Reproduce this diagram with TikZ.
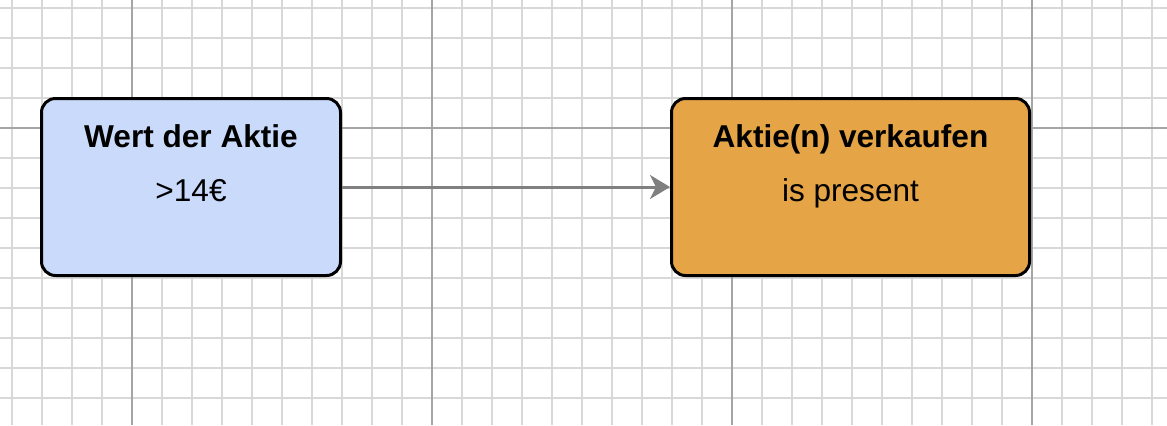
\documentclass[tikz,border=0pt]{standalone}
\usepackage{fontspec}
\setmainfont{Liberation Sans}
\usetikzlibrary{positioning,calc,arrows.meta}
\definecolor{gridminor}{RGB}{216,216,216}
\definecolor{gridmajor}{RGB}{165,165,165}
\definecolor{wertblue}{RGB}{201,218,250}
\definecolor{verkaufenorange}{RGB}{229,165,71}
\definecolor{flowgray}{RGB}{128,128,128}

\begin{document}
\begin{tikzpicture}[
    x=0.5pt, y=-0.5pt,
    box/.style={rectangle, rounded corners=7pt, draw=black, line width=1.5pt, minimum height=88.5pt},
    title/.style={anchor=base, font=\fontsize{15.8}{19}\selectfont\bfseries},
    value/.style={anchor=base, font=\fontsize{15.8}{19}\selectfont},
    flow/.style={-{Stealth[length=10pt, width=12pt, inset=3pt]}, line width=1.5pt, flowgray}
]

% canvas: 1167 x 425 px, y axis pointing down
\useasboundingbox (0,0) rectangle (1167,425);
\fill[white] (0,0) rectangle (1167,425);

% background grid: minor every 30px, major every 300px
\foreach \i in {0,...,38} {
    \draw[gridminor, line width=1pt] ({12+30*\i},0) -- ({12+30*\i},425);
}
\foreach \j in {0,...,14} {
    \draw[gridminor, line width=1pt] (0,{8+30*\j}) -- (1167,{8+30*\j});
}
\foreach \i in {0,...,3} {
    \draw[gridmajor, line width=1pt] ({132+300*\i},0) -- ({132+300*\i},425);
}
\draw[gridmajor, line width=1pt] (0,128) -- (1167,128);

% condition box
\node[box, fill=wertblue, minimum width=149.5pt] (wert) at (191, 187) {};
\node[title] (werttitle) at ($(wert.north)+(0,50.5)$) {Wert der Aktie};
\node[value] (wertvalue) at ($(wert.north)+(0,104.5)$) {>14€};

% action box
\node[box, fill=verkaufenorange, minimum width=179pt] (verkaufen) at (850.5, 187) {};
\node[title] (verkaufentitle) at ($(verkaufen.north)+(0,50.5)$) {Aktie(n) verkaufen};
\node[value] (verkaufenvalue) at ($(verkaufen.north)+(0,104)$) {is present};

% connector
\draw[flow] (wert.east) -- (verkaufen.west);

\end{tikzpicture}
\end{document}
